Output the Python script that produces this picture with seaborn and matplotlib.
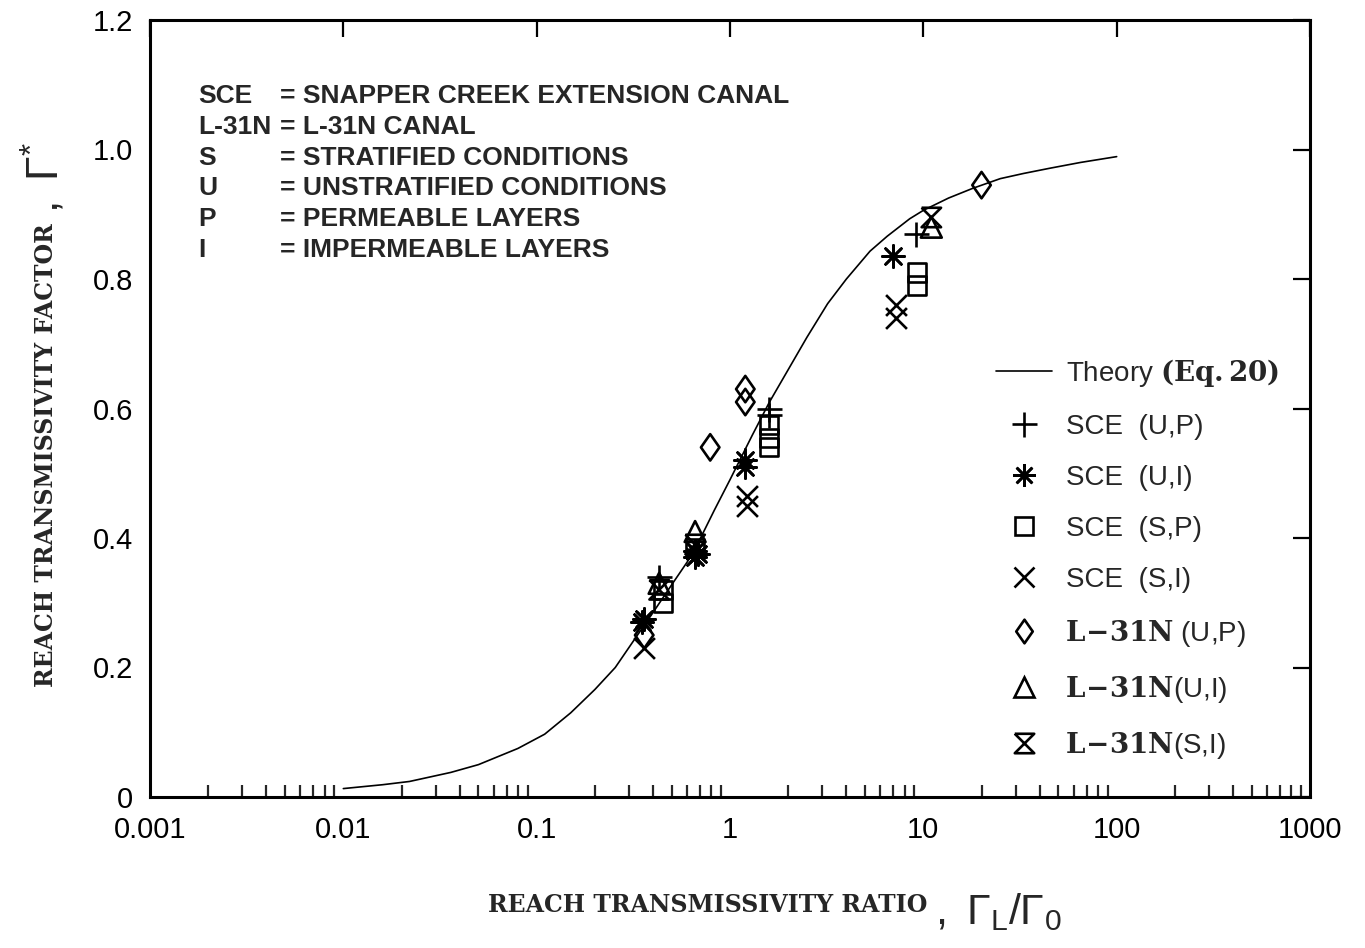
import matplotlib
matplotlib.use("Agg")
import numpy as np
import pandas as pd
import seaborn as sns
import matplotlib.pyplot as plt
from matplotlib.path import Path
from matplotlib.lines import Line2D
from matplotlib.ticker import FixedLocator, FixedFormatter, LogLocator, NullFormatter

# ---------------- data ----------------
theory_x = [0.01, 0.016, 0.022, 0.036, 0.05, 0.08, 0.11, 0.15, 0.2, 0.255, 0.32, 0.4,
            0.5, 0.64, 0.83, 1.0, 1.3, 1.6, 2.0, 2.5, 3.2, 4.0, 5.3, 6.5, 8.5, 10,
            13.5, 18, 25, 33, 45, 65, 100]
theory_y = [0.013, 0.019, 0.024, 0.038, 0.05, 0.075, 0.097, 0.13, 0.166, 0.20, 0.243, 0.285,
            0.328, 0.375, 0.443, 0.49, 0.558, 0.61, 0.66, 0.71, 0.762, 0.80, 0.843, 0.866,
            0.893, 0.906, 0.925, 0.94, 0.955, 0.963, 0.971, 0.98, 0.989]

sce_up_x = [0.43, 1.6, 1.6, 9.2]
sce_up_y = [0.34, 0.60, 0.59, 0.87]

sce_ui_x = [0.35, 0.36, 0.66, 0.66, 0.68, 1.2, 1.2, 7.0]
sce_ui_y = [0.27, 0.275, 0.38, 0.37, 0.375, 0.52, 0.51, 0.835]

sce_sp_x = [0.45, 0.45, 0.66, 1.6, 1.6, 1.6, 9.3, 9.3]
sce_sp_y = [0.30, 0.32, 0.385, 0.575, 0.555, 0.54, 0.81, 0.79]

sce_si_x = [0.36, 1.23, 1.23, 7.2, 7.2]
sce_si_y = [0.23, 0.465, 0.45, 0.76, 0.74]

l31_up_x = [0.36, 0.79, 1.2, 1.2, 20]
l31_up_y = [0.25, 0.54, 0.63, 0.61, 0.945]

l31_ui_x = [0.43, 0.66, 11]
l31_ui_y = [0.33, 0.41, 0.88]

l31_si_x = [0.43, 0.66, 11]
l31_si_y = [0.32, 0.39, 0.895]

x_ticks = [0.001, 0.01, 0.1, 1, 10, 100, 1000]
x_ticklabels = ["0.001", "0.01", "0.1", "1", "10", "100", "1000"]
y_ticks = [0, 0.2, 0.4, 0.6, 0.8, 1.0, 1.2]
y_ticklabels = ["0", "0.2", "0.4", "0.6", "0.8", "1.0", "1.2"]

key_abbr = ["SCE", "L-31N", "S", "U", "P", "I"]
key_text = ["= SNAPPER CREEK EXTENSION CANAL", "= L-31N CANAL", "= STRATIFIED CONDITIONS",
            "= UNSTRATIFIED CONDITIONS", "= PERMEABLE LAYERS", "= IMPERMEABLE LAYERS"]

# ---------------- style ----------------
sns.set_theme(style="white")
plt.rcParams["font.family"] = ["Liberation Sans", "DejaVu Sans"]
plt.rcParams["mathtext.fontset"] = "custom"
plt.rcParams["mathtext.rm"] = "Liberation Sans"
plt.rcParams["mathtext.it"] = "Liberation Sans:italic"
plt.rcParams["mathtext.bf"] = "DejaVu Serif:bold"

hourglass = Path([(-1, 1), (1, 1), (-1, -1), (1, -1), (-1, 1)],
                 [Path.MOVETO, Path.LINETO, Path.LINETO, Path.LINETO, Path.LINETO])
diamond = Path([(0, 1), (0.7, 0), (0, -1), (-0.7, 0), (0, 1)],
               [Path.MOVETO, Path.LINETO, Path.LINETO, Path.LINETO, Path.CLOSEPOLY])
asterisk = (8, 2, 0)

fig = plt.figure(figsize=(13.65, 9.48), dpi=100)
ax = fig.add_axes([150 / 1365, (948 - 797) / 948, 1160 / 1365, 777 / 948])

theory = pd.DataFrame({"x": theory_x, "y": theory_y})
sns.lineplot(data=theory, x="x", y="y", ax=ax, color="black", linewidth=1.2, sort=True)

lw = 1.9
series = [
    (sce_up_x, sce_up_y, "+", 18, False),
    (sce_ui_x, sce_ui_y, asterisk, 16, False),
    (sce_sp_x, sce_sp_y, "s", 13, True),
    (sce_si_x, sce_si_y, "x", 15, False),
    (l31_up_x, l31_up_y, diamond, 19, True),
    (l31_ui_x, l31_ui_y, "^", 15, True),
    (l31_si_x, l31_si_y, hourglass, 14, True),
]
for xs, ys, mk, ms, filled in series:
    df = pd.DataFrame({"x": xs, "y": ys})
    if filled:
        sns.scatterplot(data=df, x="x", y="y", ax=ax, marker=mk, s=ms ** 2,
                        color="black", facecolor="none", edgecolor="black",
                        linewidth=lw, zorder=3)
    else:
        sns.scatterplot(data=df, x="x", y="y", ax=ax, marker=mk, s=ms ** 2,
                        color="black", linewidth=lw, zorder=3)

ax.set_xscale("log")
ax.set_xlim(0.001, 1000)
ax.set_ylim(0, 1.2)
ax.xaxis.set_major_locator(FixedLocator(x_ticks))
ax.xaxis.set_major_formatter(FixedFormatter(x_ticklabels))
ax.xaxis.set_minor_locator(LogLocator(base=10, subs=np.arange(2, 10), numticks=20))
ax.xaxis.set_minor_formatter(NullFormatter())
ax.yaxis.set_major_locator(FixedLocator(y_ticks))
ax.yaxis.set_major_formatter(FixedFormatter(y_ticklabels))

ax.tick_params(axis="both", which="major", direction="in", length=12, width=1.6,
               labelsize=21, colors="black", top=True, right=True)
ax.tick_params(axis="x", which="minor", direction="in", length=9, width=1.6,
               top=False, bottom=True)
ax.tick_params(axis="x", which="major", pad=14)
ax.tick_params(axis="y", which="major", pad=12)
for sp in ax.spines.values():
    sp.set_color("black")
    sp.set_linewidth(2.2)
ax.set_xlabel("")
ax.set_ylabel("")

# key text block
for i, (a, t) in enumerate(zip(key_abbr, key_text)):
    ypx = 96 + i * 30.8
    ax.text((198 - 150) / 1160, (797 - ypx) / 777, a, transform=ax.transAxes,
            fontsize=19, fontweight="bold", va="center", ha="left")
    ax.text((280 - 150) / 1160, (797 - ypx) / 777, t, transform=ax.transAxes,
            fontsize=19, fontweight="bold", va="center", ha="left")

# legend
handles = [
    Line2D([], [], color="black", lw=1.2),
    Line2D([], [], ls="none", marker="+", ms=18, mew=lw, color="black"),
    Line2D([], [], ls="none", marker=asterisk, ms=16, mew=lw, color="black"),
    Line2D([], [], ls="none", marker="s", ms=13, mew=lw, color="black", mfc="none"),
    Line2D([], [], ls="none", marker="x", ms=15, mew=lw, color="black"),
    Line2D([], [], ls="none", marker=diamond, ms=17, mew=lw, color="black", mfc="none"),
    Line2D([], [], ls="none", marker="^", ms=15, mew=lw, color="black", mfc="none"),
    Line2D([], [], ls="none", marker=hourglass, ms=14, mew=lw, color="black", mfc="none"),
]
labels = [
    r"Theory $\mathbf{(Eq{.}20)}$",
    "SCE  (U,P)",
    "SCE  (U,I)",
    "SCE  (S,P)",
    "SCE  (S,I)",
    r"$\!\!\!\!\!\!\mathbf{L\!-\!31N}$ (U,P)",
    r"$\!\!\!\!\!\!\mathbf{L\!-\!31N}$(U,I)",
    r"$\!\!\!\!\!\!\mathbf{L\!-\!31N}$(S,I)",
]
ax.legend(handles, labels, loc="upper left", bbox_to_anchor=((985 - 150) / 1160, (797 - 346) / 777),
          frameon=False, fontsize=20, handlelength=2.0, handletextpad=0.5,
          labelspacing=0.9, borderaxespad=0)

# axis labels
fig.text(708 / 1365, 1 - 905 / 948, "REACH TRANSMISSIVITY RATIO", fontsize=17,
         family="DejaVu Serif", fontweight="bold", ha="center", va="center")
fig.text(935 / 1365, 1 - 912 / 948, r"$,\ \Gamma_{\mathrm{L}}/\Gamma_{\mathrm{0}}$",
         fontsize=31, ha="left", va="center")
fig.text(46 / 1365, 1 - 455 / 948, "REACH TRANSMISSIVITY FACTOR", fontsize=17,
         family="DejaVu Serif", fontweight="bold", ha="center", va="center", rotation=90)
fig.text(44 / 1365, 1 - 178 / 948, r"$,\ \Gamma^{*}$", fontsize=32,
         ha="center", va="center", rotation=90)

fig.savefig("out.png", dpi=100)
